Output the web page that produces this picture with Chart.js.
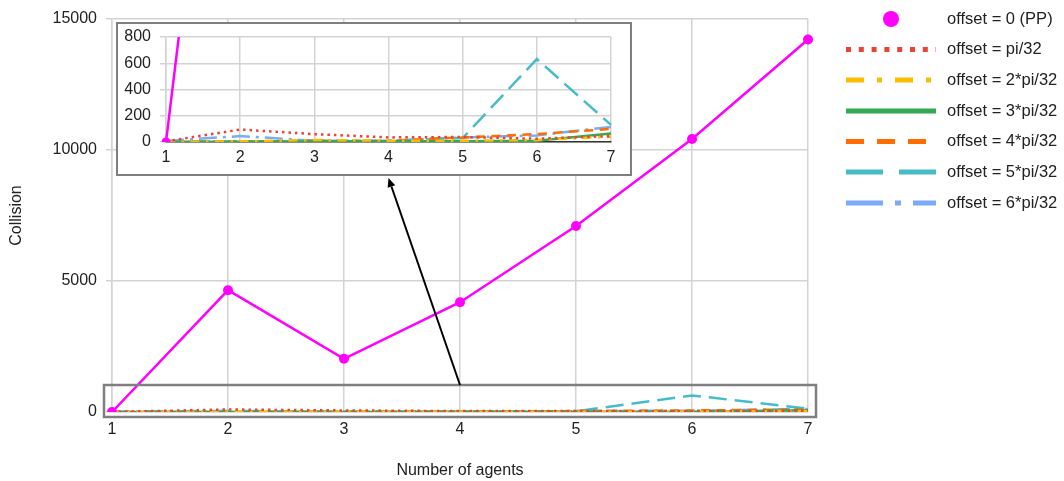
<!DOCTYPE html>
<html>
<head>
<meta charset="utf-8">
<script src="https://cdn.jsdelivr.net/npm/chart.js@4.4.1/dist/chart.umd.min.js"></script>
<style>
  html, body { margin: 0; padding: 0; background: #fff; }
  #wrap { position: relative; width: 1064px; height: 481px; }
  #main { position: absolute; left: 0; top: 0; }
  #insetBox { position: absolute; left: 116px; top: 22px; width: 512px; height: 150px;
              border: 2px solid #7f7f7f; background: #fff; }
  #inset { display: block; }
</style>
</head>
<body>
<div id="wrap">
  <canvas id="main" width="1064" height="481"></canvas>
  <div id="insetBox"><canvas id="inset" width="512" height="150"></canvas></div>
</div>
<script>
// ---------- data ----------
const categories = ['1', '2', '3', '4', '5', '6', '7'];
const seriesNames = ['offset = 0 (PP)', 'offset = pi/32', 'offset = 2*pi/32', 'offset = 3*pi/32',
                     'offset = 4*pi/32', 'offset = 5*pi/32', 'offset = 6*pi/32'];
const ppValues   = [0, 4650, 2030, 4190, 7100, 10420, 14220];
const off1Values = [5, 95, 60, 35, 38, 25, 45];
const off2Values = [0, 5, 15, 10, 10, 15, 40];
const off3Values = [0, 2, 3, 5, 5, 10, 65];
const off4Values = [0, 3, 10, 8, 35, 60, 100];
const off5Values = [3, 3, 3, 8, 30, 632, 130];
const off6Values = [8, 45, 10, 10, 35, 50, 115];
const mainYTicks  = [0, 5000, 10000, 15000];
const insetYTicks = [0, 200, 400, 600, 800];

// ---------- styles ----------
const colors = ['#ff00ff', '#ea4335', '#fbbc04', '#34a853', '#ff6d01', '#46bdc6', '#7baaf7'];
const legendDash = [[], [5, 7.8], [18, 13, 5, 13], [], [18, 13], [37, 16], [37, 12, 6, 12]];
const lineDash = [[], [2.5, 4], [9, 6.5, 2.5, 6.5], [], [9, 6.5], [18, 8], [18, 6, 3, 6]];
const allValues = [ppValues, off1Values, off2Values, off3Values, off4Values, off5Values, off6Values];
const FONT = "'Liberation Sans', Arial, sans-serif";
const TEXT = '#222';
const GRID = '#d3d3d3';

function makeDatasets(ptRadius) {
  return allValues.map((vals, i) => ({
    label: seriesNames[i],
    data: vals,
    borderColor: colors[i],
    backgroundColor: colors[i],
    borderWidth: 2.5,
    borderDash: lineDash[i],
    pointRadius: i === 0 ? ptRadius : 0,
    pointHoverRadius: i === 0 ? ptRadius : 0,
    pointBorderWidth: 0,
    tension: 0,
    fill: false
  }));
}

function noScalePad(s) { s.paddingTop = 0; s.paddingBottom = 0; s.paddingLeft = 0; s.paddingRight = 0; }

// ---------- inset chart ----------
const insetChart = new Chart(document.getElementById('inset'), {
  type: 'line',
  data: { labels: categories, datasets: makeDatasets(4.5) },
  options: {
    responsive: false,
    animation: false,
    devicePixelRatio: 1,
    layout: { padding: { top: 13, right: 19, left: 0, bottom: 0 } },
    plugins: { legend: { display: false }, tooltip: { enabled: false } },
    scales: {
      x: {
        type: 'category',
        offset: false,
        afterFit: s => { s.height = 32; noScalePad(s); },
        grid: { color: GRID, lineWidth: 1.5, tickLength: 0, drawTicks: false },
        border: { color: '#333', width: 1.5 },
        ticks: { color: TEXT, font: { family: FONT, size: 16 }, padding: 6, maxRotation: 0 }
      },
      y: {
        min: 0, max: 800,
        afterFit: s => { s.width = 48; noScalePad(s); },
        afterBuildTicks: s => { s.ticks = insetYTicks.map(v => ({ value: v })); },
        grid: { color: GRID, lineWidth: 1.5, tickLength: 6 },
        border: { color: GRID, width: 1.5 },
        ticks: { color: TEXT, font: { family: FONT, size: 16 }, padding: 9,
                 callback: v => String(v) }
      }
    }
  }
});

// ---------- main chart overlay plugin (highlight box, arrow, legend) ----------
const overlayPlugin = {
  id: 'overlay',
  afterDraw(chart) {
    const ctx = chart.ctx;
    const xs = chart.scales.x, ys = chart.scales.y;
    // highlight box around zoomed region
    const bx1 = xs.getPixelForValue(0) - 8;
    const bx2 = xs.getPixelForValue(6) + 8;
    const by1 = ys.getPixelForValue(1030);
    const by2 = ys.getPixelForValue(0) + 5;
    ctx.save();
    ctx.strokeStyle = '#7f7f7f';
    ctx.lineWidth = 2.5;
    ctx.strokeRect(bx1, by1, bx2 - bx1, by2 - by1);

    // arrow from box to inset
    const insetBox = document.getElementById('insetBox');
    const ix = insetBox.offsetLeft + 2 + insetChart.scales.x.getPixelForValue(3);
    const iy = insetBox.offsetTop + insetBox.offsetHeight + 2;
    const sx = xs.getPixelForValue(3);
    const sy = by1;
    ctx.strokeStyle = '#000';
    ctx.fillStyle = '#000';
    ctx.lineWidth = 2;
    const ang = Math.atan2(iy - sy, ix - sx);
    const headLen = 9, headW = 4;
    const ex = ix - Math.cos(ang) * headLen, ey = iy - Math.sin(ang) * headLen;
    ctx.beginPath();
    ctx.moveTo(sx, sy);
    ctx.lineTo(ex, ey);
    ctx.stroke();
    ctx.beginPath();
    ctx.moveTo(ix, iy);
    ctx.lineTo(ex + Math.sin(ang) * headW, ey - Math.cos(ang) * headW);
    ctx.lineTo(ex - Math.sin(ang) * headW, ey + Math.cos(ang) * headW);
    ctx.closePath();
    ctx.fill();

    // legend
    const lx1 = 846, lx2 = 936, tx = 947;
    const rowY = [19, 49.5, 80, 111, 141.5, 172, 203];
    ctx.font = '16.5px ' + FONT;
    ctx.textBaseline = 'middle';
    ctx.textAlign = 'left';
    seriesNames.forEach((name, i) => {
      const y = rowY[i];
      if (i === 0) {
        ctx.fillStyle = colors[0];
        ctx.beginPath();
        ctx.arc((lx1 + lx2) / 2, y, 8, 0, Math.PI * 2);
        ctx.fill();
      } else {
        ctx.strokeStyle = colors[i];
        ctx.lineWidth = 5;
        ctx.lineCap = 'butt';
        ctx.setLineDash(legendDash[i]);
        ctx.beginPath();
        ctx.moveTo(lx1, y);
        ctx.lineTo(lx2, y);
        ctx.stroke();
        ctx.setLineDash([]);
      }
      ctx.fillStyle = TEXT;
      ctx.fillText(name, tx, y);
    });
    ctx.restore();
  }
};

// ---------- main chart ----------
const mainChart = new Chart(document.getElementById('main'), {
  type: 'line',
  data: { labels: categories, datasets: makeDatasets(5) },
  options: {
    responsive: false,
    animation: false,
    devicePixelRatio: 1,
    layout: { padding: { top: 19, right: 256, left: 0, bottom: 0 } },
    plugins: { legend: { display: false }, tooltip: { enabled: false } },
    scales: {
      x: {
        type: 'category',
        offset: false,
        afterFit: s => { s.height = 69; noScalePad(s); },
        grid: { color: GRID, lineWidth: 1.5, tickLength: 0, drawTicks: false },
        border: { color: GRID, width: 1.5 },
        ticks: { color: TEXT, font: { family: FONT, size: 16 }, padding: 8, maxRotation: 0 },
        title: { display: true, text: 'Number of agents', color: TEXT,
                 font: { family: FONT, size: 16 }, padding: { top: 4, bottom: 1 } }
      },
      y: {
        min: 0, max: 15000,
        afterFit: s => { s.width = 112; noScalePad(s); },
        afterBuildTicks: s => { s.ticks = mainYTicks.map(v => ({ value: v })); },
        grid: { color: GRID, lineWidth: 1.5, tickLength: 6 },
        border: { color: GRID, width: 1.5 },
        ticks: { color: TEXT, font: { family: FONT, size: 16 }, padding: 9,
                 callback: v => String(v) },
        title: { display: true, text: 'Collision', color: TEXT,
                 font: { family: FONT, size: 16 }, padding: { top: 7, bottom: 4 } }
      }
    }
  },
  plugins: [overlayPlugin]
});
</script>
</body>
</html>
